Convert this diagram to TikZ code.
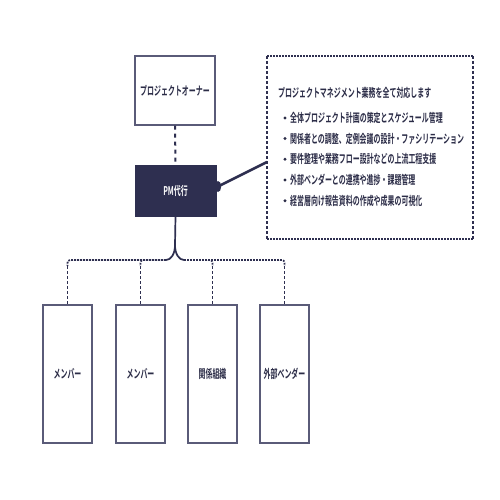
\documentclass[tikz,border=0pt]{standalone}
\usepackage{fontspec}
\newfontfamily\jp{Noto Sans CJK JP Bold}[FakeStretch=0.58]
\usetikzlibrary{arrows.meta}
\definecolor{navy}{HTML}{2E2F50}
\definecolor{ink}{HTML}{2B2C47}
\definecolor{edge}{HTML}{5A5B78}
\tikzset{
  box/.style={draw=edge, line width=1.3pt, fill=white, inner sep=0pt},
  lbl/.style={font=\jp\fontsize{12}{14}\selectfont, text=ink},
  txt/.style={font=\jp\fontsize{12}{14}\selectfont, text=ink, anchor=west, inner sep=0pt},
  bul/.style={circle, fill=ink, inner sep=0pt, minimum size=3.2pt},
  hdot/.style={draw=navy, line width=1.7pt, dash pattern=on 1.8pt off 1.2pt},
  vdash/.style={draw=navy, line width=1.7pt, dash pattern=on 3pt off 2pt},
}
\begin{document}
\begin{tikzpicture}[x=1pt,y=-1pt]
\useasboundingbox (0,0) rectangle (500,500);
\fill[white] (0,0) rectangle (500,500);

% top boxes
\node[box, minimum width=80pt, minimum height=69pt, lbl] (owner) at (175,90.5) {プロジェクトオーナー};
\node[draw=navy, fill=navy, line width=1pt, minimum width=81pt, minimum height=51pt, inner sep=0pt,
      font=\jp\fontsize{12}{14}\selectfont, text=white] (pm) at (175.5,190.5) {PM代行};

\draw[draw=navy, line width=2pt, dash pattern=on 4pt off 4pt] (owner.south) -- (pm.north);

% description box
\path[hdot] (267,56) -- (473,56);
\path[hdot] (267,239) -- (473,239);
\path[vdash] (267,56) -- (267,239);
\path[vdash] (473,56) -- (473,239);
\coordinate (dbox) at (267,162);

\node[txt] (h) at (278,93) {プロジェクトマネジメント業務を全て対応します};
\node[bul] (d1) at (285,118) {}; \node[txt] (b1) at (290,118) {全体プロジェクト計画の策定とスケジュール管理};
\node[bul] (d2) at (285,138.5) {}; \node[txt] (b2) at (290,138.5) {関係者との調整、定例会議の設計・ファシリテーション};
\node[bul] (d3) at (285,159.3) {}; \node[txt] (b3) at (290,159.3) {要件整理や業務フロー設計などの上流工程支援};
\node[bul] (d4) at (285,180) {}; \node[txt] (b4) at (290,180) {外部ベンダーとの連携や進捗・課題管理};
\node[bul] (d5) at (285,200.7) {}; \node[txt] (b5) at (290,200.7) {経営層向け報告資料の作成や成果の可視化};

% connector PM -> description box
\coordinate (blob) at (218,186.5);
\fill[navy] (blob) ellipse [x radius=3.2pt, y radius=5.5pt];
\draw[navy, line width=2.6pt] (blob) -- (dbox);

% bottom boxes
\foreach \n/\x/\t in {m1/67.5/メンバー, m2/140.5/メンバー, m3/212.5/関係組織, m4/284.5/外部ベンダー}{
  \node[box, minimum width=49pt, minimum height=138pt, lbl] (\n) at (\x,374) {\t};
}

% trunk
\coordinate (split) at (175,245);
\draw[navy, line width=1.7pt] (pm.south) -- (split);
\coordinate (hl) at (166,260);
\coordinate (hr) at (184,260);
\draw[navy, line width=1.7pt] (split) .. controls (175,254) and (171,260) .. (hl);
\draw[navy, line width=1.7pt] (split) .. controls (175,254) and (179,260) .. (hr);

% branches
\foreach \n/\x in {m1/67.5, m2/140.5}{
  \draw[hdot] (hl) -- (\x+6,260) .. controls (\x,260) .. (\x,266);
  \draw[vdash] (\x,266) -- (\n.north);
}
\foreach \n/\x in {m3/212.5, m4/284.5}{
  \draw[hdot] (hr) -- (\x-6,260) .. controls (\x,260) .. (\x,266);
  \draw[vdash] (\x,266) -- (\n.north);
}
\end{tikzpicture}
\end{document}
